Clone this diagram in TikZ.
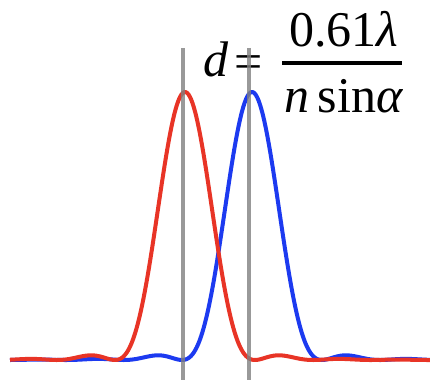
\documentclass[tikz,border=0pt]{standalone}
\usepackage{fontspec}
\setmainfont{Liberation Serif}
\newfontfamily\eqfont{Liberation Serif}
\usepackage{tikz}
\usetikzlibrary{positioning}
\definecolor{psfred}{RGB}{232,52,38}
\definecolor{psfblue}{RGB}{28,58,240}
% Airy pattern (2 J1(x)/x)^2, polynomial fits for J1
\tikzset{declare function={
    airyin(\x)=1-1.1249997*(\x/3)^2+0.42187146*(\x/3)^4-0.07908578*(\x/3)^6+0.00886638*(\x/3)^8-0.00063522*(\x/3)^10+0.00002218*(\x/3)^12;
    airyout(\x)=2*(0.79788456+0.01659667*(3/\x)^2-0.00249511*(3/\x)^4+0.00113653*(3/\x)^5-0.00020033*(3/\x)^6)*cos(deg(\x-2.35619449+0.12499612*(3/\x)-0.00637879*(3/\x)^3+0.00074348*(3/\x)^4+0.00079824*(3/\x)^5-0.00029166*(3/\x)^6))/(\x*sqrt(\x));
    airyamp(\x)=ifthenelse(abs(\x)<3,airyin(min(abs(\x),3)),airyout(max(abs(\x),3)));
    airy(\x)=airyamp(\x)*airyamp(\x);
}}

\begin{document}
\begin{tikzpicture}[x=1pt, y=1pt,
    curve/.style={line width=4pt, line join=round},
    marker/.style={draw=black!50, line width=3.5pt, opacity=0.8},
    eqtext/.style={inner sep=0pt, font=\eqfont\fontsize{50}{60}\selectfont}
]
\useasboundingbox (0,0) rectangle (430,380);
% the two spots
\draw[curve, psfblue] plot[domain=10:430, samples=300] (\x, {20+268*airy((\x-252)*0.05474)});
\draw[curve, psfred] plot[domain=10:430, samples=300] (\x, {20+268*airy((\x-185)*0.05474)});

% Rayleigh limit
\node[eqtext, anchor=base west] (dvar) at (203,303) {\textit{d}};
\node[eqtext, anchor=base] (eqsign) at (249,301) {=};
\node[eqtext, anchor=base] (numer) at (344,333) {0.61\textit{λ}};
\node[eqtext, anchor=base] (denom) at (344,267) {\textit{n}\,sin\textit{α}};
\draw[line width=4pt] (282,317) -- (402,317);

\draw[marker] (183,332) -- (183,0);
\draw[marker] (249,332) -- (249,0);
\end{tikzpicture}
\end{document}
